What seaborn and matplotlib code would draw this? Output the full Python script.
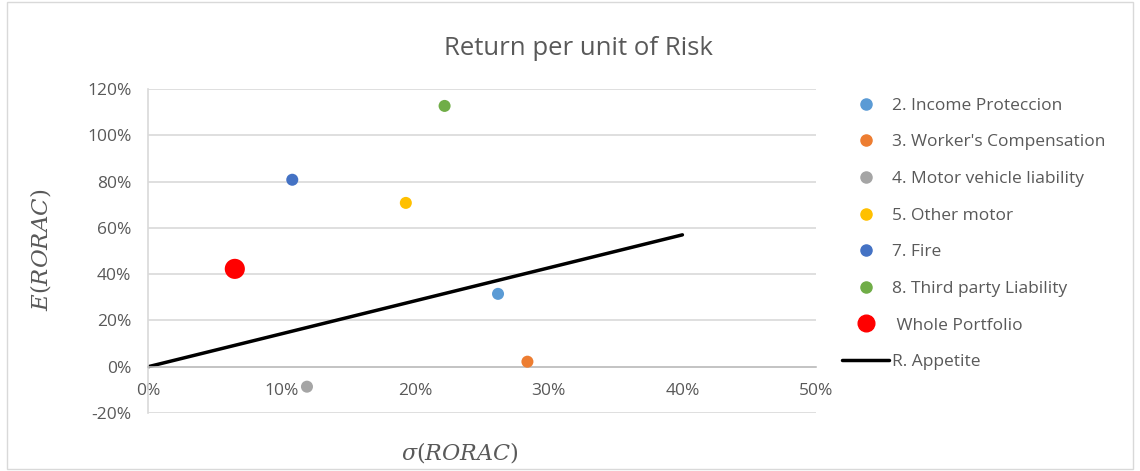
import numpy as np
import pandas as pd
import matplotlib
matplotlib.use('Agg')
import matplotlib.pyplot as plt
import seaborn as sns
from matplotlib.patches import Rectangle
from matplotlib.ticker import PercentFormatter

# data
lines_of_business = ['2. Income Proteccion', "3. Worker's Compensation", '4. Motor vehicle liability',
                     '5. Other motor', '7. Fire', '8. Third party Liability', ' Whole Portfolio']
sigma_rorac = [0.262, 0.284, 0.119, 0.193, 0.108, 0.222, 0.065]
mean_rorac = [0.315, 0.022, -0.086, 0.708, 0.808, 1.127, 0.423]
colors = ['#5B9BD5', '#ED7D31', '#A5A5A5', '#FFC000', '#4472C4', '#70AD47', '#FF0000']

appetite_x = [0.0, 0.40]
appetite_y = [0.0, 0.57]

sns.set_theme(style='white')
plt.rcParams['font.family'] = ['Open Sans', 'DejaVu Sans']
plt.rcParams['axes.unicode_minus'] = False
txt = '#595959'

df = pd.DataFrame({'lob': lines_of_business, 'sigma': sigma_rorac, 'mean': mean_rorac})
df['big'] = df['lob'].str.contains('Whole')

fig = plt.figure(figsize=(11.4, 4.71), dpi=100)
ax = fig.add_axes([0.1298, 0.123, 0.586, 0.688])

sns.scatterplot(data=df, x='sigma', y='mean', hue='lob', palette=dict(zip(lines_of_business, colors)),
                size='big', sizes={False: 75, True: 210}, linewidth=0, ax=ax, legend=False, zorder=3)
sns.lineplot(x=appetite_x, y=appetite_y, color='black', linewidth=2.5, ax=ax, zorder=2)

ax.set_xlim(0, 0.5)
ax.set_ylim(-0.2, 1.2)
ax.set_xticks(np.arange(0, 0.51, 0.1))
ax.set_yticks(np.arange(-0.2, 1.21, 0.2))
ax.xaxis.set_major_formatter(PercentFormatter(1.0, decimals=0))
ax.yaxis.set_major_formatter(PercentFormatter(1.0, decimals=0))
ax.grid(axis='y', color='#D9D9D9', linewidth=1.2)
ax.set_axisbelow(True)
for s in ['top', 'right']:
    ax.spines[s].set_visible(False)
ax.spines['bottom'].set_position(('data', 0))
ax.spines['bottom'].set_color('#BFBFBF')
ax.spines['bottom'].set_linewidth(1.2)
ax.spines['left'].set_color('#D9D9D9')
ax.spines['left'].set_linewidth(1.2)
ax.tick_params(axis='both', length=0, labelsize=12.5, colors=txt)
ax.tick_params(axis='y', pad=12)
ax.tick_params(axis='x', pad=12)
ax.set_xlabel('')
ax.set_ylabel('')

fig.text(0.507, 0.898, 'Return per unit of Risk', ha='center', va='center', fontsize=18.5, color=txt)
fig.text(0.403, 0.04, r'$\sigma(RORAC)$', ha='center', va='center', fontsize=16, color=txt,
         math_fontfamily='dejavuserif')
fig.text(0.036, 0.47, r'$E(RORAC)$', ha='center', va='center', fontsize=16.5, color=txt,
         rotation=90, math_fontfamily='dejavuserif')

handles = []
for lob, c, big in zip(lines_of_business, colors, df['big']):
    handles.append(plt.Line2D([], [], marker='o', linestyle='', color=c, markersize=12 if big else 8))
handles.append(plt.Line2D([], [], color='black', linewidth=2.5))
labels = lines_of_business + ['R. Appetite']
fig.legend(handles, labels, loc='upper left', bbox_to_anchor=(0.725, 0.826), frameon=False,
           fontsize=12.5, labelcolor=txt, labelspacing=1.18, handlelength=2.7, handletextpad=0.2)

fig.add_artist(Rectangle((0.006, 0.004), 0.988, 0.992, transform=fig.transFigure,
                         fill=False, edgecolor='#D9D9D9', linewidth=1))

fig.savefig('out.png', dpi=100)
